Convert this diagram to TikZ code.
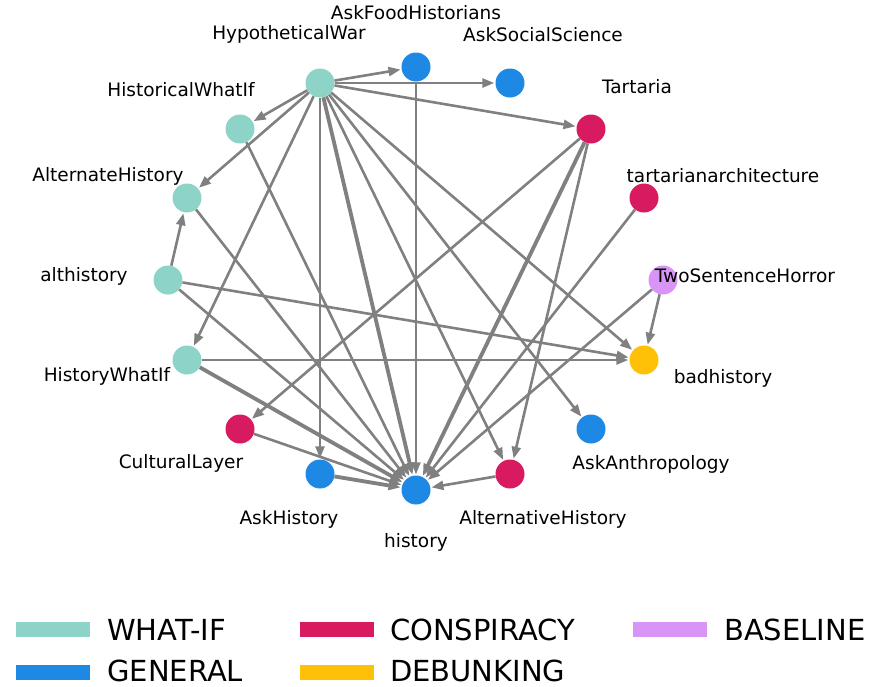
\documentclass[tikz,border=0pt]{standalone}
\usepackage{fontspec}
\setmainfont{DejaVu Sans}
\usetikzlibrary{arrows.meta}
\definecolor{whatif}{HTML}{8DD3C7}
\definecolor{general}{HTML}{1E88E5}
\definecolor{conspiracy}{HTML}{D81B60}
\definecolor{debunking}{HTML}{FFC107}
\definecolor{baseline}{HTML}{D895F5}
\definecolor{edgegray}{HTML}{808080}
\begin{document}
\begin{tikzpicture}[x=1pt,y=-1pt,
  sub/.style={circle,minimum size=29pt,inner sep=0pt,fill=#1},
  lab/.style={font=\fontsize{18.5}{18.5}\selectfont},
  link/.style={draw=edgegray,line width=2.6pt,-{Triangle[length=12pt,width=9pt]},shorten >=1pt},
  heavy/.style={line width=3.8pt},
  light/.style={line width=1.9pt},
  legendbar/.style={fill=#1,minimum width=74pt,minimum height=15pt,inner sep=0pt},
  legendtext/.style={anchor=base west,inner sep=0pt,text depth=0pt,font=\fontsize{29}{29}\selectfont}]
\useasboundingbox (0,0) rectangle (873,686);
\node[sub=whatif] (hypotheticalwar) at (320,83) {};
\node[sub=general] (askfoodhistorians) at (416,67) {};
\node[sub=general] (asksocialscience) at (510,83) {};
\node[sub=conspiracy] (tartaria) at (591,129) {};
\node[sub=conspiracy] (tartarianarchitecture) at (644,198) {};
\node[sub=baseline] (twosentencehorror) at (663,280) {};
\node[sub=debunking] (badhistory) at (644,360) {};
\node[sub=general] (askanthropology) at (591,429) {};
\node[sub=conspiracy] (alternativehistory) at (510,474) {};
\node[sub=general] (history) at (416,490) {};
\node[sub=general] (askhistory) at (320,474) {};
\node[sub=conspiracy] (culturallayer) at (240,429) {};
\node[sub=whatif] (historywhatif) at (187,360) {};
\node[sub=whatif] (althistory) at (168,280) {};
\node[sub=whatif] (alternatehistory) at (187,198) {};
\node[sub=whatif] (historicalwhatif) at (240,129) {};

\draw[link] (hypotheticalwar) -- (askfoodhistorians);
\draw[link] (hypotheticalwar) -- (asksocialscience);
\draw[link] (hypotheticalwar) -- (tartaria);
\draw[link] (hypotheticalwar) -- (historicalwhatif);
\draw[link] (hypotheticalwar) -- (alternatehistory);
\draw[link] (hypotheticalwar) -- (historywhatif);
\draw[link] (hypotheticalwar) -- (askhistory);
\draw[link,heavy] (hypotheticalwar) -- (history);
\draw[link] (hypotheticalwar) -- (alternativehistory);
\draw[link] (hypotheticalwar) -- (askanthropology);
\draw[link] (hypotheticalwar) -- (badhistory);
\draw[link,light] (askfoodhistorians) -- (history);
\draw[link] (tartaria) -- (culturallayer);
\draw[link,heavy] (tartaria) -- (history);
\draw[link] (tartaria) -- (alternativehistory);
\draw[link] (tartarianarchitecture) -- (history);
\draw[link] (twosentencehorror) -- (badhistory);
\draw[link] (twosentencehorror) -- (history);
\draw[link] (althistory) -- (alternatehistory);
\draw[link] (althistory) -- (badhistory);
\draw[link] (althistory) -- (history);
\draw[link] (historywhatif) -- (badhistory);
\draw[link,heavy] (historywhatif) -- (history);
\draw[link] (alternatehistory) -- (history);
\draw[link] (historicalwhatif) -- (history);
\draw[link] (culturallayer) -- (history);
\draw[link,heavy] (askhistory) -- (history);
\draw[link] (alternativehistory) -- (history);

\node[lab] (hypotheticalwarlab) at (289,34) {HypotheticalWar};
\node[lab] (askfoodhistorianslab) at (416,13) {AskFoodHistorians};
\node[lab] (asksocialsciencelab) at (543,35) {AskSocialScience};
\node[lab] (tartarialab) at (637,87) {Tartaria};
\node[lab] (tartarianarchitecturelab) at (723,176) {tartarianarchitecture};
\node[lab] (twosentencehorrorlab) at (745,276) {TwoSentenceHorror};
\node[lab] (badhistorylab) at (723,378) {badhistory};
\node[lab] (askanthropologylab) at (651,464) {AskAnthropology};
\node[lab] (alternativehistorylab) at (543,519) {AlternativeHistory};
\node[lab] (historylab) at (416,542) {history};
\node[lab] (askhistorylab) at (289,519) {AskHistory};
\node[lab] (culturallayerlab) at (181,463) {CulturalLayer};
\node[lab] (historywhatiflab) at (107,376) {HistoryWhatIf};
\node[lab] (althistorylab) at (84,276) {althistory};
\node[lab] (alternatehistorylab) at (108,176) {AlternateHistory};
\node[lab] (historicalwhatiflab) at (181,90) {HistoricalWhatIf};

\node[legendbar=whatif] (keywhatif) at (53,629) {};
\node[legendtext] (keywhatiflab) at (107,640) {WHAT-IF};
\node[legendbar=general] (keygeneral) at (53,672) {};
\node[legendtext] (keygenerallab) at (107,681) {GENERAL};
\node[legendbar=conspiracy] (keyconspiracy) at (337,629) {};
\node[legendtext] (keyconspiracylab) at (390,640) {CONSPIRACY};
\node[legendbar=debunking] (keydebunking) at (337,672) {};
\node[legendtext] (keydebunkinglab) at (390,681) {DEBUNKING};
\node[legendbar=baseline] (keybaseline) at (670,629) {};
\node[legendtext] (keybaselinelab) at (724,640) {BASELINE};
\end{tikzpicture}
\end{document}
